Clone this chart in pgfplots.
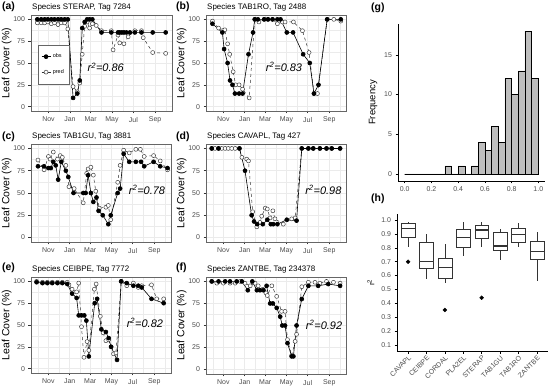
\documentclass[border=0pt]{standalone}
\usepackage{fontspec}
\setmainfont{Liberation Sans}
\usepackage{pgfplots}
\pgfplotsset{compat=1.18}
\usepgfplotslibrary{statistics}

\definecolor{g92}{gray}{0.92}
\definecolor{g40}{gray}{0.4}
\definecolor{g30}{gray}{0.3}
\definecolor{g20}{gray}{0.2}
\definecolor{histfill}{gray}{0.745}

\newcommand{\fs}[1]{\fontsize{#1}{#1}\selectfont}

\tikzset{r2/.style={font=\itshape\fs{11}}}

\pgfplotsset{
  ts/.style={
    scale only axis, anchor=south west,
    width=140bp, height=96bp,
    xmin=-19, xmax=383, ymin=-5, ymax=105,
    xtick={31,92,151,212,273,335},
    xticklabels={Nov,Jan,Mar,May,Jul,Sep},
    minor xtick={0.5,61.5,121.5,181.5,242.5,304,365.5},
    ytick={0,25,50,75,100},
    minor ytick={12.5,37.5,62.5,87.5},
    grid=both,
    major grid style={g92, line width=0.6bp},
    minor grid style={g92, line width=0.35bp},
    axis line style={g40, line width=0.6bp},
    tick style={g20, line width=0.5bp},
    tick align=outside, major tick length=2.5bp, minor tick length=0pt,
    tick pos=left,
    ticklabel style={font=\fs{7}, text=g30},
    /pgf/number format/assume math mode=true,
    ylabel={Leaf Cover (\%)},
    ylabel style={font=\fs{10.5}},
    ylabel shift=-5bp,
    every axis title shift=0pt,
    title style={at={(0,1)}, anchor=south west, font=\fs{8}, inner sep=0pt, yshift=4bp, xshift=1bp},
  },
  cl/.style={
    scale only axis, anchor=south west,
    axis lines=left, axis line style={-, black, line width=0.5bp},
    tick align=outside, tick style={black, line width=0.5bp}, major tick length=2.5bp,
    ticklabel style={font=\fs{7}, text=g30},
    /pgf/number format/assume math mode=true,
  },
  obs/.style={black, line width=0.6bp, mark=*, mark size=2bp, mark options={solid, fill=black}},
  pred/.style={black!80, dashed, line width=0.5bp, mark=*, mark size=2bp, mark options={solid, fill=white, draw=black!75}},
  bx/.style={draw=g20, fill=white, line width=0.5bp, solid, mark=*, mark size=1.9bp,
    mark options={fill=black, draw=black},
    boxplot/draw direction=y,
    boxplot/box extend=0.75, boxplot/whisker extend=0,
    boxplot/every median/.style={line width=1.3bp}},
}

\begin{document}
\begin{tikzpicture}
\useasboundingbox (0,0) rectangle (550bp,386bp);

% panel labels
\begin{scope}[font=\bfseries\fs{10.5}]
\node[anchor=west, inner sep=0pt] at (2bp,379bp) {(a)};
\node[anchor=west, inner sep=0pt] at (176bp,379bp) {(b)};
\node[anchor=west, inner sep=0pt] at (2bp,249bp) {(c)};
\node[anchor=west, inner sep=0pt] at (176bp,249bp) {(d)};
\node[anchor=west, inner sep=0pt] at (2bp,118bp) {(e)};
\node[anchor=west, inner sep=0pt] at (176bp,118bp) {(f)};
\node[anchor=west, inner sep=0pt] at (371bp,378bp) {(g)};
\node[anchor=west, inner sep=0pt] at (371bp,187bp) {(h)};
\end{scope}

% (a)
\begin{axis}[ts, at={(31bp,275bp)}, width=141bp, title={Species STERAP, Tag 7284},
  legend style={at={(0.05,0.69)}, anchor=north west, font=\fs{5.5}, draw=g40,
    inner xsep=3bp, inner ysep=7bp, row sep=6bp, cells={anchor=west}},
  legend image code/.code={\draw[mark repeat=2, mark phase=2, #1] plot coordinates {(0bp,0bp) (4.5bp,0bp) (9bp,0bp)};},
  reverse legend]
\addplot[pred] coordinates {(-1,96) (10,96) (20,96) (29,97) (39,95) (48,96) (58,94) (67,96) (77,96) (86,89) (101,23) (113,17) (120,27) (127,60) (134,92) (141,97) (148,90) (156,95) (167,93) (182,87) (210,87) (215,65) (229,82) (234,73) (246,72) (258,80) (277,87) (296,87) (301,79) (328,62) (365,61)};
\addlegendentry{pred}
\addplot[obs] coordinates {(-1,100) (10,100) (20,100) (29,100) (39,100) (48,100) (58,100) (67,100) (77,100) (86,100) (101,10) (113,15) (120,30) (127,90) (134,97) (141,100) (148,100) (156,100) (182,85) (210,85) (229,85) (234,85) (240,85) (246,85) (253,85) (263,85) (277,85) (296,85) (328,85) (365,85)};
\addlegendentry{obs}
\node[r2] at (axis cs:194,45) {r\textsuperscript{2}=0.86};
\end{axis}

% (b)
\begin{axis}[ts, at={(206bp,275bp)}, title={Species TAB1RO, Tag 2488}]
\addplot[pred] coordinates {(-0.5,98) (17,90) (28,87) (35,88) (43,72) (49,60) (59,40) (66,25) (76,25) (86,20) (105,10) (121,100) (133,97) (148,100) (159,100) (172,100) (186,95) (200,97) (208,97) (232,97) (258,87) (277,62) (291,15) (301,15) (329,100) (348,100) (368,98)};
\addplot[obs] coordinates {(-0.5,95) (28,85) (33,66) (43,50) (50,30) (57,25) (64,15) (76,15) (86,15) (103,60) (116,85) (121,100) (130,100) (148,100) (159,100) (172,100) (186,100) (195,100) (213,85) (231,85) (260,60) (279,50) (291,15) (304,25) (329,100) (368,100)};
\node[r2] at (axis cs:205,46) {r\textsuperscript{2}=0.83};
\end{axis}

% (c)
\begin{axis}[ts, at={(31bp,144bp)}, height=98bp, title={Species TAB1GU, Tag 3881}]
\addplot[pred] coordinates {(1,87) (18.5,76) (31,91) (36,88) (45,96) (57,88) (65,92) (71,90) (81,81) (90,57) (105,55) (131,39) (141,72) (145,77) (153,79) (160,70) (167,52) (177,33) (196,34) (203,36) (210,20) (230,62) (237,81) (247,98) (263,95) (282,99) (295,99) (306,91) (333,92) (352,86) (373,76)};
\addplot[obs] coordinates {(1,80) (18.5,80) (31,78) (38,78) (45,85) (52,81) (59,65) (68,85) (81,75) (88,68) (103,50) (131,50) (138,50) (145,70) (153,50) (160,40) (169,45) (175,30) (187,25) (203,15) (210,25) (230,50) (237,55) (247,94) (263,85) (282,85) (297,85) (306,80) (333,85) (352,80) (373,78)};
\node[r2] at (axis cs:314,53) {r\textsuperscript{2}=0.78};
\end{axis}

% (d)
\begin{axis}[ts, at={(206bp,144bp)}, height=98bp, title={Species CAVAPL, Tag 427}]
\addplot[pred] coordinates {(-2.5,100) (7,100) (17,100) (26,100) (36,100) (45,100) (55,100) (65,100) (77,100) (84,90) (98,88) (103,86) (115,29) (127,12) (136,17) (141,24) (151,33) (157,32) (165,22) (173,30) (179,21) (203,15) (227,21) (237,22) (256,100) (275,100) (289,100) (308,100) (327,100) (342,100) (366,100)};
\addplot[obs] coordinates {(-2.5,100) (17,100) (77,100) (93,75) (112,25) (119,18) (128,15) (144,15) (157,20) (167,15) (174,15) (186,15) (213,20) (241,19) (256,100) (275,100) (289,100) (308,100) (327,100) (342,100) (366,100)};
\node[r2] at (axis cs:318,54) {r\textsuperscript{2}=0.98};
\end{axis}

% (e)
\begin{axis}[ts, at={(31bp,13bp)}, title={Species CEIBPE, Tag 7772}]
\addplot[pred] coordinates {(-3,100) (14,99) (28,99) (42,99) (57,99) (71,99) (85,99) (90,96) (99,91) (112,88) (118,98) (126,48) (133,13) (142,31) (147,21) (163,91) (168,97) (180,60) (188,41) (196,32) (204,33) (211,25) (218,17) (225,18) (240,100) (256,95) (275,98) (289,93) (299,95) (327,96) (342,80) (362,80)};
\addplot[obs] coordinates {(-3,99) (14,98) (28,98) (42,98) (57,98) (71,98) (85,97) (99,86) (112,81) (118,61) (126,61) (134,61) (140,55) (147,14) (164,75) (171,80) (183,45) (196,42) (204,35) (211,25) (228,10) (240,100) (256,98) (275,95) (289,95) (299,93) (327,80) (362,75)};
\node[r2] at (axis cs:308,52) {r\textsuperscript{2}=0.82};
\end{axis}

% (f)
\begin{axis}[ts, at={(206bp,12bp)}, height=97bp, title={Species ZANTBE, Tag 234378}]
\addplot[pred] coordinates {(-2.5,100) (12,98) (31,98) (50,98) (65,98) (79,100) (93,98) (108,95) (122,98) (131,95) (144,91) (153,87) (157,84) (170,95) (184,83) (198,66) (208,66) (215,34) (227,16) (237,32) (241,40) (256,94) (275,99) (294,99) (308,98) (327,100) (347,99) (366,98)};
\addplot[obs] coordinates {(-2.5,100) (17,100) (36,100) (50,100) (69,100) (84,100) (101,90) (114,100) (127,90) (136,90) (146,90) (155,95) (165,75) (173,75) (184,70) (194,60) (200,50) (208,50) (215,30) (227,15) (232,15) (241,50) (256,80) (275,95) (303,95) (332,97) (366,95)};
\node[r2] at (axis cs:320,51) {r\textsuperscript{2}=0.92};
\end{axis}

% (g) histogram
\begin{axis}[cl, at={(398bp,205bp)}, width=147bp, height=157bp,
  xmin=-0.05, xmax=1.05, ymin=-0.9, ymax=18.9,
  xtick={0,0.2,0.4,0.6,0.8,1.0}, xticklabels={0.0,0.2,0.4,0.6,0.8,1.0},
  ytick={0,5,10,15},
  ylabel={Frequency}, ylabel style={font=\fs{9.5}}]
\addplot[ybar interval, fill=histfill, draw=black, line width=0.5bp] coordinates {
(0.00,0) (0.05,0) (0.10,0) (0.15,0) (0.20,0) (0.25,0) (0.30,1) (0.35,0) (0.40,1) (0.45,0)
(0.50,1) (0.55,4) (0.60,3) (0.65,6) (0.70,4) (0.75,12) (0.80,10) (0.85,13) (0.90,18) (0.95,12) (1.00,12)};
\end{axis}

% (h) boxplots
\begin{axis}[cl, at={(397bp,35bp)}, width=151bp, height=137bp,
  xmin=0.4, xmax=8.6, ymin=0.055, ymax=1.045,
  xtick={1,2,3,4,5,6,7,8},
  xticklabels={CAVAPL,CEIBPE,CORDAL,PLA2EL,STERAP,TAB1GU,TAB1RO,ZANTBE},
  xticklabel style={rotate=45, anchor=north east, inner sep=1bp},
  ytick={0.1,0.2,0.3,0.4,0.5,0.6,0.7,0.8,0.9,1.0},
  yticklabels={0.1,0.2,0.3,0.4,0.5,0.6,0.7,0.8,0.9,1.0},
  ylabel={r\textsuperscript{2}}, ylabel style={font=\fs{8}}]
\addplot[bx, boxplot prepared={draw position=1, lower whisker=0.81, lower quartile=0.875, median=0.94, upper quartile=0.98, upper whisker=0.99}] coordinates {(0,0.70)};
\addplot[bx, boxplot prepared={draw position=2, lower whisker=0.573, lower quartile=0.652, median=0.70, upper quartile=0.84, upper whisker=0.897}] coordinates {};
\addplot[bx, boxplot prepared={draw position=3, lower whisker=0.544, lower quartile=0.58, median=0.66, upper quartile=0.724, upper whisker=0.825}] coordinates {(0,0.352)};
\addplot[bx, boxplot prepared={draw position=4, lower whisker=0.74, lower quartile=0.808, median=0.875, upper quartile=0.933, upper whisker=0.99}] coordinates {};
\addplot[bx, boxplot prepared={draw position=5, lower whisker=0.803, lower quartile=0.873, median=0.93, upper quartile=0.964, upper whisker=0.99}] coordinates {(0,0.44)};
\addplot[bx, boxplot prepared={draw position=6, lower whisker=0.71, lower quartile=0.78, median=0.813, upper quartile=0.911, upper whisker=0.94}] coordinates {};
\addplot[bx, boxplot prepared={draw position=7, lower whisker=0.803, lower quartile=0.844, median=0.897, upper quartile=0.945, upper whisker=0.98}] coordinates {};
\addplot[bx, boxplot prepared={draw position=8, lower whisker=0.56, lower quartile=0.717, median=0.772, upper quartile=0.85, upper whisker=0.918}] coordinates {};
\end{axis}
\end{tikzpicture}
\end{document}
